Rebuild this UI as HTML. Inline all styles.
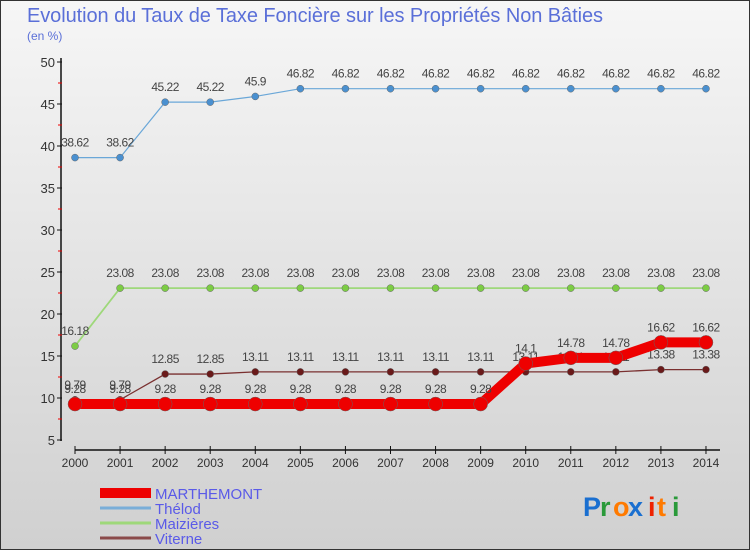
<!DOCTYPE html>
<html><head><meta charset="utf-8"><style>
body{margin:0;width:750px;height:550px;overflow:hidden;font-family:"Liberation Sans",sans-serif}
#c{position:absolute;left:0;top:0;width:748px;height:548px;border:1px solid #333;background:linear-gradient(#f6f6f6,#d0d0d0)}
</style></head><body>
<div id="c">
<svg id="s" width="750" height="550" style="position:absolute;left:-1px;top:-1px"></svg>
</div>
<script>
const years=[2000,2001,2002,2003,2004,2005,2006,2007,2008,2009,2010,2011,2012,2013,2014];
const yTicks=[5,10,15,20,25,30,35,40,45,50];
const marthemont=[9.28,9.28,9.28,9.28,9.28,9.28,9.28,9.28,9.28,9.28,14.1,14.78,14.78,16.62,16.62];
const thelod=[38.62,38.62,45.22,45.22,45.9,46.82,46.82,46.82,46.82,46.82,46.82,46.82,46.82,46.82,46.82];
const maizieres=[16.18,23.08,23.08,23.08,23.08,23.08,23.08,23.08,23.08,23.08,23.08,23.08,23.08,23.08,23.08];
const viterne=[9.79,9.79,12.85,12.85,13.11,13.11,13.11,13.11,13.11,13.11,13.11,13.11,13.11,13.38,13.38];
const seriesNames=["MARTHEMONT","Thélod","Maizières","Viterne"];
const S=document.getElementById('s');const NS='http://www.w3.org/2000/svg';
const x=i=>75+i*45.07, y=v=>440-(v-5)*8.4;
function el(t,a,p){const e=document.createElementNS(NS,t);for(const k in a)e.setAttribute(k,a[k]);(p||S).appendChild(e);return e;}
function txt(x0,y0,s,a){const e=el('text',Object.assign({x:x0,y:y0,'font-family':'Liberation Sans, sans-serif'},a));e.textContent=s;return e;}
let t=txt(27,22,'Evolution du Taux de Taxe Foncière sur les Propriétés Non Bâties',{'font-size':20,fill:'#5a6fd8',textLength:576});

t=txt(27,40,'(en %)',{'font-size':12,fill:'#5a6fd8'});

let a=el('line',{x1:61,y1:58,x2:61,y2:441,stroke:'#111','stroke-width':1.5});

yTicks.forEach(v=>{el('line',{x1:57,x2:62,y1:y(v),y2:y(v),stroke:'#111'});
 if(v<50)el('line',{x1:58,x2:62,y1:y(v+2.5),y2:y(v+2.5),stroke:'#e00'});
 const l=txt(55,y(v)+5,String(v),{'font-size':13,fill:'#333','text-anchor':'end'});
 });
a=el('line',{x1:75,y1:450,x2:720,y2:450,stroke:'#111','stroke-width':1.5});

years.forEach((yr,i)=>{el('line',{x1:x(i),x2:x(i),y1:446,y2:454,stroke:'#111'});
 const l=txt(x(i),467,String(yr),{'font-size':12,fill:'#333','text-anchor':'middle'});
 });
function series(d,color,w,r,dot,name){
 const g=el('g',{});
 el('polyline',{points:d.map((v,i)=>x(i)+','+y(v)).join(' '),fill:'none',stroke:color,'stroke-width':w},g);
 d.forEach((v,i)=>{const c=el('circle',{cx:x(i),cy:y(v),r:r,fill:dot,stroke:'#666','stroke-width':0.5},g);
  
  txt(x(i),y(v)-11,String(v),{'font-size':12,fill:'#444','text-anchor':'middle','letter-spacing':'-0.5'},g);});}
series(thelod,'#6aa7d8',1.2,3.5,'#4a90d0','series-thelod');
series(maizieres,'#9ed87a',1.8,3.5,'#7ccc44','series-maizieres');
series(viterne,'#7a3030',1.3,3.5,'#6a1a1a','series-viterne');
series(marthemont,'#ee0000',10,7,'#ee0000','series-marthemont');
const lc=['#ee0000','#7aaed8','#9ed87a','#8a4a4a'],lw=[10,3,3,3];
seriesNames.forEach((n,i)=>{const g=el('g',{});
 el('line',{x1:100,x2:151,y1:493+i*15,y2:493+i*15,stroke:lc[i],'stroke-width':lw[i]},g);
 txt(155,499+i*15,n,{'font-size':15,fill:'#5a5ae8'},g);});
const lg=el('g',{});
const pc=['#1a6fd0','#2a9a3a','#ff7a00','#1a6fd0','#ee2200','#ff7a00','#2a9a3a'];
const px=[583,600,613,628,648,657,672];
'Proxiti'.split('').forEach((ch,i)=>txt(px[i],516,ch,{'font-size':27,fill:pc[i],'font-weight':'bold'},lg));
</script></body></html>
